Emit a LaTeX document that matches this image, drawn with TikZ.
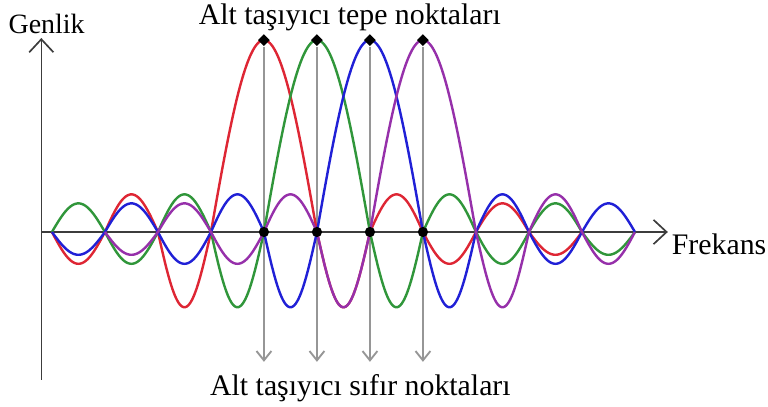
\documentclass[tikz,border=0pt]{standalone}
\usepackage{fontspec}
\setmainfont{Liberation Serif}
\usetikzlibrary{arrows.meta,shapes.geometric}
\pgfdeclarelayer{background}
\pgfdeclarelayer{foreground}
\pgfsetlayers{background,main,foreground}
\definecolor{subred}{RGB}{222,38,52}
\definecolor{subgreen}{RGB}{48,150,58}
\definecolor{subblue}{RGB}{32,32,214}
\definecolor{subpurple}{RGB}{150,48,170}
\definecolor{axisgray}{RGB}{60,60,60}
\definecolor{markgray}{RGB}{150,150,150}

\tikzset{
  declare function={
    side(\u)=ifthenelse(\u<2,1.42,ifthenelse(\u<3,0.71,ifthenelse(\u<4,0.60,ifthenelse(\u<5,0.54,0.43))));
    sinclobe(\t)=ifthenelse(abs(\t)<1,3.62*cos(90*\t),side(abs(\t))*sin(180*abs(\t)));
  },
  carrier/.style={line width=1.3pt, line join=round},
  axisline/.style={line width=0.9pt, draw=axisgray, -{Straight Barb[length=7pt,width=13pt]}},
  markline/.style={line width=1pt, draw=markgray, -{Straight Barb[length=5pt,width=8pt]}},
  peakdot/.style={diamond, fill=black, inner sep=0pt, minimum size=6.5pt},
  zerodot/.style={circle, fill=black, inner sep=0pt, minimum size=5.5pt},
  labeltext/.style={inner sep=0pt, font=\fontsize{16}{19}\selectfont}
}

\begin{document}
\begin{tikzpicture}
\useasboundingbox (-4.98,-3.30) rectangle (9.51,4.377);

\coordinate (Origin)   at (-4.2,0);
\coordinate (XAxisMax) at (7.62,0);
\coordinate (YAxisMin) at (-4.2,-2.79);
\coordinate (YAxisMax) at (-4.2,3.66);

% axes
\begin{pgfonlayer}{background}
  \draw [axisline] (Origin) -- (XAxisMax);
  \draw [axisline] (YAxisMin) -- (YAxisMax);
\end{pgfonlayer}

% subcarriers, one per peak
\foreach \c/\col/\lo/\hi in {0/subred/-4/6, 1/subgreen/-4/7, 2/subblue/-4/7, 3/subpurple/-3/7}{
  \draw [carrier, \col] plot[domain=\lo:\hi, samples=441] (\x, {sinclobe(\x-\c)});
}

% peak and zero markers
\foreach \c [count=\i] in {0,1,2,3}{
  \node [peakdot] (peak\i) at (\c,3.62) {};
  \node [zerodot] (zero\i) at (\c,0) {};
  \coordinate (end\i) at (\c,-2.45);
  \begin{pgfonlayer}{background}
    \draw [markline] (peak\i) -- (end\i);
  \end{pgfonlayer}
}

\node [labeltext, anchor=base] (amp) at (-4.10,3.75) {\fontsize{15}{18}\selectfont Genlik};
\node [labeltext, anchor=base west] (freq) at (7.69,-0.43) {Frekans};
\node [labeltext, anchor=base] (toplabel) at (1.62,3.91) {Alt taşıyıcı tepe noktaları};
\node [labeltext, anchor=base] (bottomlabel) at (1.82,-3.08) {Alt taşıyıcı sıfır noktaları};
\end{tikzpicture}
\end{document}
